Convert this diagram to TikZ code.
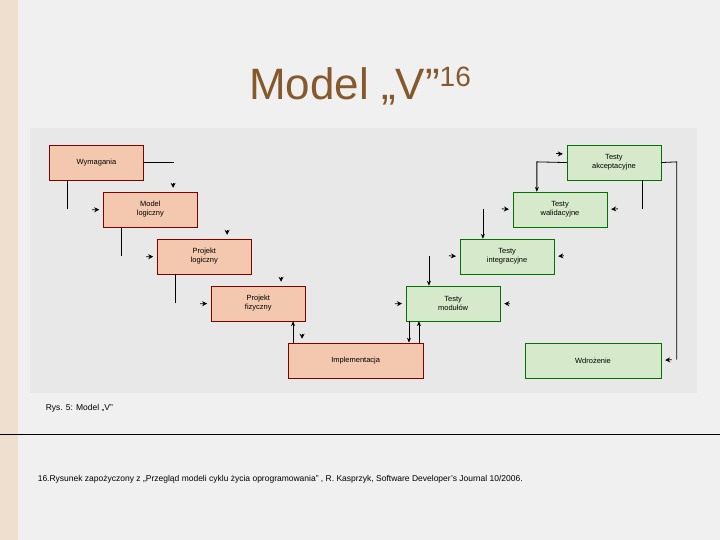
\documentclass[tikz,border=0pt]{standalone}
\usepackage{fontspec}
\setmainfont{Liberation Sans}
\usetikzlibrary{arrows.meta}
\definecolor{rf}{HTML}{F3C8AE}
\definecolor{gf}{HTML}{D6EACB}
\begin{document}
\begin{tikzpicture}[x=1pt,y=-1pt,
  red/.style={draw=red!50!black,fill=rf,minimum width=94pt,minimum height=35pt,font=\fontsize{7.5}{9}\selectfont,align=center,anchor=north west,inner sep=0pt},
  grn/.style={draw=green!45!black,fill=gf,minimum width=94pt,minimum height=35pt,font=\fontsize{7.5}{9}\selectfont,align=center,anchor=north west,inner sep=0pt},
  ln/.style={line width=0.8pt},
  ar/.style={line width=0.8pt,-{Stealth[length=5pt,width=4pt]}},
  tip/.style={line width=0.8pt,-{Stealth[length=5pt,width=5pt]},shorten >=4pt}]
\fill[gray!12] (0,0) rectangle (720,540);
\fill[brown!25] (0,0) rectangle (18,540);
\fill[gray!18] (30,128) rectangle (697,393);
\node[text=brown!70!black,font=\fontsize{44}{50}\selectfont] (title) at (360,86) {Model „V”\raisebox{0.55ex}{\fontsize{28}{30}\selectfont 16}};
\node[red] (w) at (49,145) {Wymagania};
\node[red] (ml) at (103,192) {Model\\logiczny};
\node[red] (pl) at (157,239) {Projekt\\logiczny};
\node[red] (pf) at (211,286) {Projekt\\fizyczny};
\node[red,minimum width=135pt] (im) at (288,343) {Implementacja};
\node[grn] (ta) at (567,145) {Testy\\akceptacyjne};
\node[grn] (tw) at (513,192) {Testy\\walidacyjne};
\node[grn] (ti) at (460,239) {Testy\\integracyjne};
\node[grn] (tm) at (406,286) {Testy\\modułów};
\node[grn,minimum width=136pt] (wd) at (525,343) {Wdrożenie};
% left descending side
\draw[ln] (w.east) -- ++(30,0);
\draw[ln] (w.south west) ++(18,0) -- ++(0,29);
\draw[tip] (173,183) -- (ml.north -| 173,0);
\draw[tip] (92,210) -- (ml.west);
\draw[ln] (ml.south west) ++(18,0) -- ++(0,29);
\draw[tip] (227,230) -- (pl.north -| 227,0);
\draw[tip] (146,257) -- (pl.west);
\draw[ln] (pl.south west) ++(18,0) -- ++(0,29);
\draw[tip] (281,277) -- (pf.north -| 281,0);
\draw[tip] (200,304) -- (pf.west);
\draw[ar] (im.north west) ++(5,0) -- (pf.south -| 293,0);
\draw[tip] (302,334) -- (im.north -| 302,0);
% bottom
\draw[ar] (tm.south -| 409,0) -- (im.north -| 409,0);
\draw[ar] (im.north -| 419,0) -- (tm.south -| 419,0);
% right ascending side
\draw[tip] (395,304) -- (tm.west);
\draw[tip] (510,304) -- (tm.east);
\draw[ar] (429,256) -- (tm.north -| 429,0);
\draw[tip] (449,256) -- (ti.west);
\draw[tip] (564,256) -- (ti.east);
\draw[ar] (483,209) -- (ti.north -| 483,0);
\draw[tip] (502,209) -- (tw.west);
\draw[tip] (618,209) -- (tw.east);
\draw[ar] (ta.west) -- (537,162) -- (tw.north -| 537,0);
\draw[tip] (556,154) -- (ta.west |- 0,154);
\draw[ln] (ta.south -| 643,0) -- ++(0,29);
\draw[ln] (ta.east) -- (677,162) -- (677,360);
\draw[tip] (672,360) -- (wd.east);
% captions
\node[anchor=west,font=\fontsize{8.5}{10}\selectfont] (cap) at (42,409) {Rys. 5: Model „V”};
\draw[line width=0.6pt] (0,435) -- (720,435);
\node[anchor=west,font=\fontsize{8.5}{10}\selectfont] (fn) at (34,480) {16.Rysunek zapożyczony z „Przegląd modeli cyklu życia oprogramowania” , R. Kasprzyk, Software Developer’s Journal 10/2006.};
\end{tikzpicture}
\end{document}
